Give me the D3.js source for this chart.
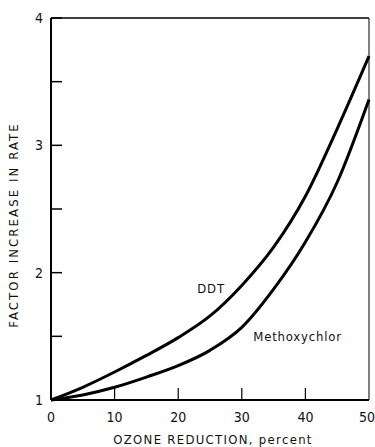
<!DOCTYPE html>
<meta charset="utf-8">
<style>
body { margin: 0; background: #fff; }
text { font-family: "Liberation Sans Narrow", "DejaVu Sans Condensed", "Liberation Sans", sans-serif; fill: #111; }
.line { fill: none; stroke: #000; stroke-width: 3; }
</style>
<body>
<script src="https://d3js.org/d3.v7.min.js"></script>
<script>
// data
var ozone = [0, 5, 10, 15, 20, 25, 30, 35, 40, 45, 50];
var ddt = [1.0, 1.1, 1.22, 1.35, 1.49, 1.66, 1.9, 2.2, 2.6, 3.13, 3.7];
var methoxychlor = [1.0, 1.04, 1.1, 1.18, 1.27, 1.39, 1.57, 1.87, 2.24, 2.71, 3.36];
var xTicks = [0, 10, 20, 30, 40, 50];
var yTicks = [1, 2, 3, 4];
var yMinor = [1.5, 2.5, 3.5];

var margin = {top: 18, right: 6, bottom: 47, left: 51},
    width = 375 - margin.left - margin.right,
    height = 447 - margin.top - margin.bottom;

var svg = d3.select("body").append("svg")
    .attr("width", 375)
    .attr("height", 447)
  .append("g")
    .attr("transform", "translate(" + margin.left + "," + margin.top + ")");

var x = d3.scaleLinear().domain([0, 50]).range([0, 318]);
var y = d3.scaleLinear().domain([1, 4]).range([height, 0]);

// frame
svg.append("line").attr("x1", 0).attr("x2", 0).attr("y1", 0).attr("y2", height)
    .attr("stroke", "#000").attr("stroke-width", 2);
svg.append("line").attr("x1", 0).attr("x2", x(50)).attr("y1", height).attr("y2", height)
    .attr("stroke", "#000").attr("stroke-width", 2);
svg.append("line").attr("x1", 0).attr("x2", x(50)).attr("y1", 0).attr("y2", 0)
    .attr("stroke", "#000").attr("stroke-width", 1.5);
svg.append("line").attr("x1", x(50)).attr("x2", x(50)).attr("y1", 0).attr("y2", height)
    .attr("stroke", "#000").attr("stroke-width", 1);

// y ticks, drawn inward
svg.selectAll(".ytick")
    .data(yTicks.concat(yMinor))
  .enter().append("line")
    .attr("x1", 0).attr("x2", 11)
    .attr("y1", function(d) { return y(d); })
    .attr("y2", function(d) { return y(d); })
    .attr("stroke", "#000").attr("stroke-width", 1.5);

svg.selectAll(".ylab")
    .data(yTicks)
  .enter().append("text")
    .attr("x", -8)
    .attr("y", function(d) { return y(d) + 5; })
    .attr("text-anchor", "end")
    .style("font-size", "14px")
    .text(function(d) { return d; });

// x ticks, drawn inward
svg.selectAll(".xtick")
    .data(xTicks.slice(1, -1))
  .enter().append("line")
    .attr("x1", function(d) { return x(d); })
    .attr("x2", function(d) { return x(d); })
    .attr("y1", height).attr("y2", height - 12)
    .attr("stroke", "#000").attr("stroke-width", 1.2);

svg.selectAll(".xlab")
    .data(xTicks)
  .enter().append("text")
    .attr("x", function(d) { return Math.min(x(d), 316); })
    .attr("y", height + 22)
    .attr("text-anchor", "middle")
    .style("font-size", "14px")
    .text(function(d) { return d; });

// axis titles
svg.append("text")
    .attr("x", 162)
    .attr("y", height + 44)
    .attr("text-anchor", "middle")
    .style("font-size", "13px")
    .style("letter-spacing", "1.3px")
    .text("OZONE REDUCTION, percent");

svg.append("text")
    .attr("transform", "translate(-33,207) rotate(-90)")
    .attr("text-anchor", "middle")
    .style("font-size", "13px")
    .style("letter-spacing", "2.1px")
    .text("FACTOR INCREASE IN RATE");

// curves
var line = d3.line()
    .x(function(d) { return x(d[0]); })
    .y(function(d) { return y(d[1]); })
    .curve(d3.curveMonotoneX);

svg.append("path")
    .datum(d3.zip(ozone, ddt))
    .attr("class", "line")
    .attr("d", line);

svg.append("path")
    .datum(d3.zip(ozone, methoxychlor))
    .attr("class", "line")
    .attr("d", line);

// curve labels
svg.append("text")
    .attr("x", x(23))
    .attr("y", y(1.84))
    .style("font-size", "13px")
    .style("letter-spacing", "0.8px")
    .text("DDT");

svg.append("text")
    .attr("x", x(31.8))
    .attr("y", y(1.46))
    .style("font-size", "13px")
    .style("letter-spacing", "0.8px")
    .text("Methoxychlor");
</script>
</body>
